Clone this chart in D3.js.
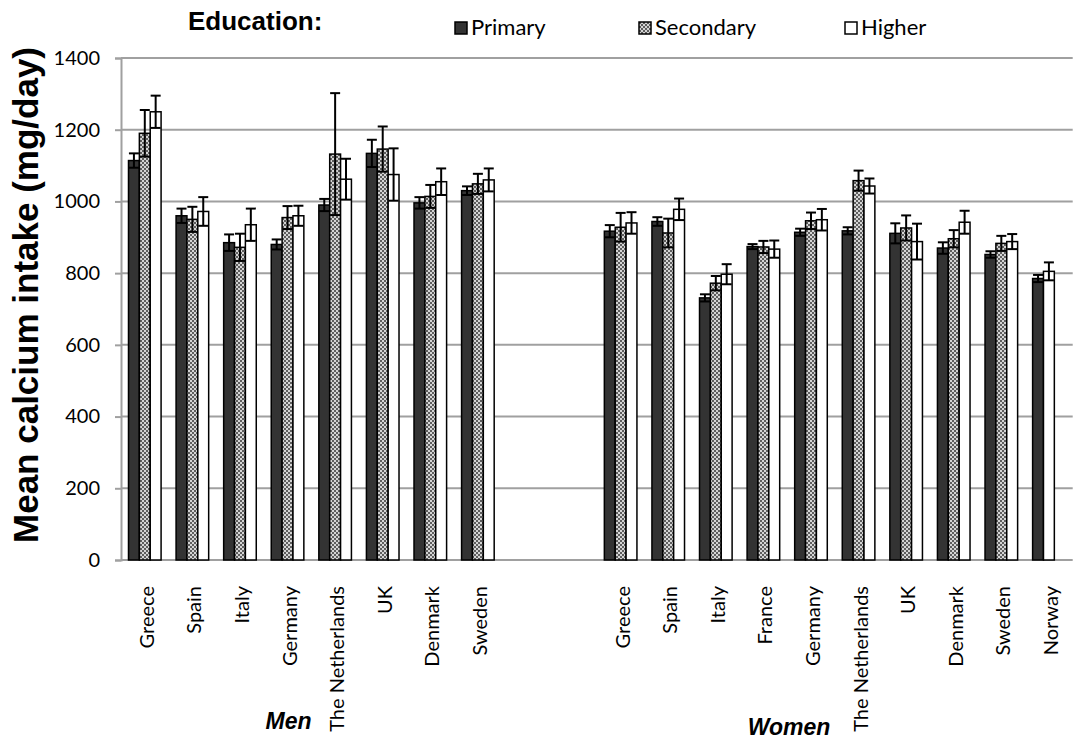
<!DOCTYPE html>
<html>
<head>
<meta charset="utf-8">
<script src="https://cdn.jsdelivr.net/npm/d3@7"></script>
<style>
  html, body { margin: 0; padding: 0; background: #fff; }
  svg { display: block; }
</style>
</head>
<body>
<svg id="chart" width="1076" height="740"></svg>
<script>
// ---- data ----
const categories = ["Greece","Spain","Italy","Germany","The Netherlands","UK","Denmark","Sweden","","",
                    "Greece","Spain","Italy","France","Germany","The Netherlands","UK","Denmark","Sweden","Norway"];
const sexLabels = ["Men", "Women"];
const seriesNames = ["Primary", "Secondary", "Higher"];
const primary      = [1114, 960, 885, 880, 990, 1134, 996, 1030, null, null,  917, 944, 731, 874, 914, 918, 911, 870, 852, 785];
const primaryErr   = [  20,  20,  23,  14,  17,   38,  16,   12, null, null,   17,  12,  10,   7,  10,  10,  28,  16,   9,  10];
const secondary    = [1190, 950, 872, 955, 1132, 1146, 1014, 1049, null, null, 928, 912, 772, 873, 946, 1058, 926, 896, 883, null];
const secondaryErr = [  65,  35,  38,  32,  170,   63,   32,   28, null, null,  40,  40,  20,  17,  23,   28,  35,  24,  21, null];
const higher       = [1250, 972, 935, 960, 1062, 1075, 1055, 1060, null, null, 940, 978, 797, 867, 949, 1043, 888, 942, 888, 805];
const higherErr    = [  45,  40,  45,  28,   57,   73,   37,   32, null, null,  30,  30,  28,  24,  30,   21,  50,  32,  21,  25];
const yTicks = [0, 200, 400, 600, 800, 1000, 1200, 1400];

const values = [primary, secondary, higher];
const errors = [primaryErr, secondaryErr, higherErr];

// ---- layout ----
const svg = d3.select("#chart");
const plotL = 121, plotR = 1072.7, plotT = 58, plotB = 560;

const x0 = d3.scaleBand().domain(d3.range(categories.length)).range([plotL, plotR]).padding(0);
const x1 = d3.scaleBand().domain([0, 1, 2]).range([0, x0.bandwidth()]).paddingInner(0).paddingOuter(0.69);
const y = d3.scaleLinear().domain([0, 1400]).range([plotB, plotT]);

// pattern for secondary
const defs = svg.append("defs");
const pat = defs.append("pattern").attr("id", "checker").attr("patternUnits", "userSpaceOnUse")
  .attr("width", 4).attr("height", 4);
pat.append("rect").attr("width", 4).attr("height", 4).attr("fill", "#d4d4d4");
pat.append("rect").attr("width", 2).attr("height", 2).attr("fill", "#5e5e5e");
pat.append("rect").attr("x", 2).attr("y", 2).attr("width", 2).attr("height", 2).attr("fill", "#5e5e5e");

const fills = ["#333333", "url(#checker)", "#ffffff"];

svg.append("rect").attr("width", 1076).attr("height", 740).attr("fill", "#fff");

// gridlines
svg.append("g").selectAll("line").data(yTicks.filter(d => d > 0)).join("line")
  .attr("x1", plotL).attr("x2", plotR)
  .attr("y1", d => y(d)).attr("y2", d => y(d))
  .attr("stroke", "#a0a0a0").attr("stroke-width", 2);

// y axis
const yAxis = svg.append("g").attr("transform", `translate(${plotL},0)`)
  .call(d3.axisLeft(y).tickValues(yTicks).tickFormat(d3.format("d")).tickSize(6).tickPadding(15));
yAxis.select(".domain").attr("stroke", "#a0a0a0").attr("stroke-width", 2);
yAxis.selectAll(".tick line").attr("stroke", "#a0a0a0").attr("stroke-width", 2);
yAxis.selectAll(".tick text").attr("font-family", "Lato, sans-serif").attr("font-size", 20).attr("fill", "#000");

// x axis line
svg.append("line").attr("x1", plotL).attr("x2", plotR).attr("y1", y(0)).attr("y2", y(0))
  .attr("stroke", "#a0a0a0").attr("stroke-width", 2);

// bar records
const bars = [];
categories.forEach((c, i) => {
  let slot = 0;
  values.forEach((arr, s) => {
    if (arr[i] == null) return;
    bars.push({ i, s, slot, v: arr[i], e: errors[s][i] });
    slot++;
  });
});

svg.append("g").selectAll("rect").data(bars).join("rect")
  .attr("x", d => x0(d.i) + x1(d.slot))
  .attr("y", d => y(d.v))
  .attr("width", x1.bandwidth())
  .attr("height", d => y(0) - y(d.v))
  .attr("fill", d => fills[d.s])
  .attr("stroke", "#000").attr("stroke-width", 1.5);

// error bars
const eg = svg.append("g").attr("stroke", "#000").attr("stroke-width", 2);
bars.forEach(d => {
  const cx = x0(d.i) + x1(d.slot) + x1.bandwidth() / 2;
  const y1 = y(d.v + d.e), y2 = y(d.v - d.e);
  eg.append("line").attr("x1", cx).attr("x2", cx).attr("y1", y1).attr("y2", y2);
  eg.append("line").attr("x1", cx - 5).attr("x2", cx + 5).attr("y1", y1).attr("y2", y1);
  eg.append("line").attr("x1", cx - 5).attr("x2", cx + 5).attr("y1", y2).attr("y2", y2);
});

// category labels
svg.append("g").selectAll("text").data(categories.map((c, i) => ({ c, i })).filter(d => d.c)).join("text")
  .attr("transform", d => `translate(${x0(d.i) + x0.bandwidth() / 2 + 2},586) rotate(-90)`)
  .attr("text-anchor", "end").attr("dy", "0.35em")
  .attr("font-family", "Lato, sans-serif").attr("font-size", 20).attr("fill", "#000")
  .text(d => d.c);

// sex labels
const sexPos = [[288.5, 729], [789, 735]];
svg.append("g").selectAll("text").data(sexLabels).join("text")
  .attr("x", (d, i) => sexPos[i][0]).attr("y", (d, i) => sexPos[i][1])
  .attr("text-anchor", "middle")
  .attr("font-family", "Liberation Sans, Arial, sans-serif").attr("font-weight", "bold")
  .attr("font-style", "italic").attr("font-size", 23).attr("fill", "#000")
  .text(d => d);

// y title
svg.append("text").attr("transform", "translate(38,295) rotate(-90)")
  .attr("text-anchor", "middle")
  .attr("font-family", "Liberation Sans, Arial, sans-serif").attr("font-weight", "bold")
  .attr("font-size", 35).attr("fill", "#000")
  .text("Mean calcium intake (mg/day)");

// legend
svg.append("text").attr("x", 188).attr("y", 30)
  .attr("font-family", "Liberation Sans, Arial, sans-serif").attr("font-weight", "bold")
  .attr("font-size", 26).attr("fill", "#000").text("Education:");
const legX = [455, 639, 845];
const lg = svg.append("g").selectAll("g").data(seriesNames).join("g")
  .attr("transform", (d, i) => `translate(${legX[i]},22)`);
lg.append("rect").attr("width", 12).attr("height", 12)
  .attr("fill", (d, i) => fills[i]).attr("stroke", "#000").attr("stroke-width", 1.5);
lg.append("text").attr("x", 16).attr("y", 13)
  .attr("font-family", "Lato, sans-serif").attr("font-size", 22).attr("fill", "#000")
  .text(d => d);
</script>
</body>
</html>
